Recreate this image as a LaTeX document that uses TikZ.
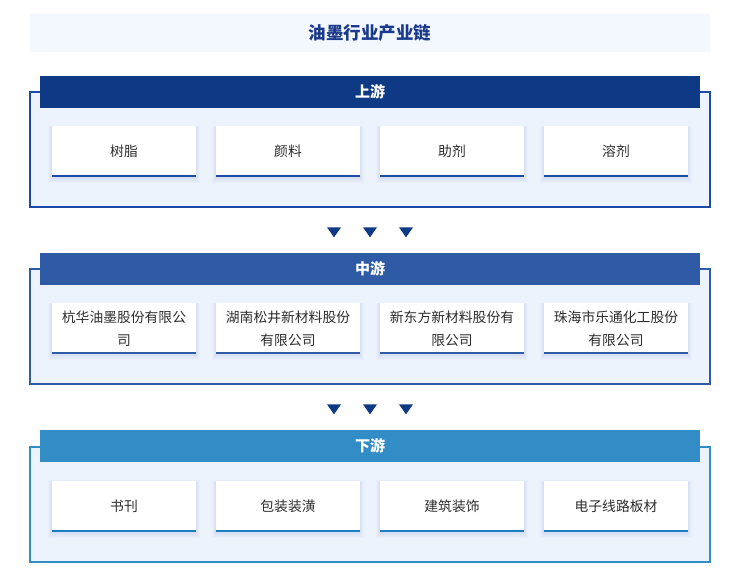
\documentclass[tikz,border=0pt]{standalone}
\usepackage{fontspec}
\setmainfont{Noto Sans CJK SC}
\usetikzlibrary{shapes.geometric}
\definecolor{titlebg}{HTML}{F3F7FE}
\definecolor{titletxt}{HTML}{1B3A8C}
\definecolor{framefill}{HTML}{EDF3FD}
\definecolor{secA}{HTML}{0E3A85}
\definecolor{secAline}{HTML}{1A4AA6}
\definecolor{secB}{HTML}{2F5AA6}
\definecolor{secC}{HTML}{328CC5}
\definecolor{secCline}{HTML}{1E7DC0}
\definecolor{cardtxt}{HTML}{2E2E2E}
\definecolor{shadowc}{HTML}{7A92C8}
\tikzset{
  frame/.style={draw=#1, line width=1.5pt, fill=framefill},
  header/.style={fill=#1, draw=none, text=white, font=\fontsize{15}{18}\selectfont\bfseries},
  card/.style={fill=white, draw=none, minimum width=144pt, minimum height=51pt, inner sep=0pt,
    align=center, text=cardtxt, font=\fontsize{13.8}{22.5}\selectfont},
  tri/.style={isosceles triangle, shape border rotate=-90, isosceles triangle apex angle=70,
    fill=secA, draw=none, minimum width=14pt, minimum height=10pt, inner sep=0pt, isosceles triangle stretches},
}
\newcommand\mkcard[5]{%
  \foreach \s in {1,...,5}{%
    \fill[shadowc, opacity=0.035] (#2-72-\s*0.8, #3-25.5-\s*0.4+1.5) rectangle (#2+72+\s*0.8, #3+25.5+\s*0.9+1.5);}
  \node[card] (#1) at (#2,#3) {#4};
  \draw[#5, line width=2pt] ([yshift=1pt]#1.south west) -- ([yshift=1pt]#1.south east);
}
\begin{document}
\begin{tikzpicture}[x=1pt,y=-1pt]
\useasboundingbox (0,0) rectangle (740,573);
\fill[white] (0,0) rectangle (740,573);
% title
\fill[titlebg] (30,14) rectangle (710,52);
\node[text=titletxt, font=\fontsize{17.5}{20}\selectfont\bfseries] (title) at (370,33) {油墨行业产业链};

% upstream
\draw[frame=secAline] (30,92) rectangle (710,207);
\path[fill=secA] (40,76) rectangle (700,108);
\node[header=secA, fill opacity=0, text opacity=1] (hA) at (370,92) {上游};
\mkcard{u1}{124}{151.5}{树脂}{secAline}
\mkcard{u2}{288}{151.5}{颜料}{secAline}
\mkcard{u3}{452}{151.5}{助剂}{secAline}
\mkcard{u4}{616}{151.5}{溶剂}{secAline}

% arrows 1
\node[tri] (t1) at (334,231) {};
\node[tri] (t2) at (370,231) {};
\node[tri] (t3) at (406,231) {};

% midstream
\draw[frame=secB] (30,269) rectangle (710,384);
\path[fill=secB] (40,253) rectangle (700,285);
\node[header=secB, fill opacity=0, text opacity=1] (hB) at (370,269) {中游};
\mkcard{m1}{124}{328.5}{杭华油墨股份有限公\\司}{secB}
\mkcard{m2}{288}{328.5}{湖南松井新材料股份\\有限公司}{secB}
\mkcard{m3}{452}{328.5}{新东方新材料股份有\\限公司}{secB}
\mkcard{m4}{616}{328.5}{珠海市乐通化工股份\\有限公司}{secB}

% arrows 2
\node[tri] (t4) at (334,408) {};
\node[tri] (t5) at (370,408) {};
\node[tri] (t6) at (406,408) {};

% downstream
\draw[frame=secC] (30,447) rectangle (710,562);
\path[fill=secC] (40,430) rectangle (700,462);
\node[header=secC, fill opacity=0, text opacity=1] (hC) at (370,446) {下游};
\mkcard{d1}{124}{506}{书刊}{secCline}
\mkcard{d2}{288}{506}{包装装潢}{secCline}
\mkcard{d3}{452}{506}{建筑装饰}{secCline}
\mkcard{d4}{616}{506}{电子线路板材}{secCline}
\end{tikzpicture}
\end{document}
